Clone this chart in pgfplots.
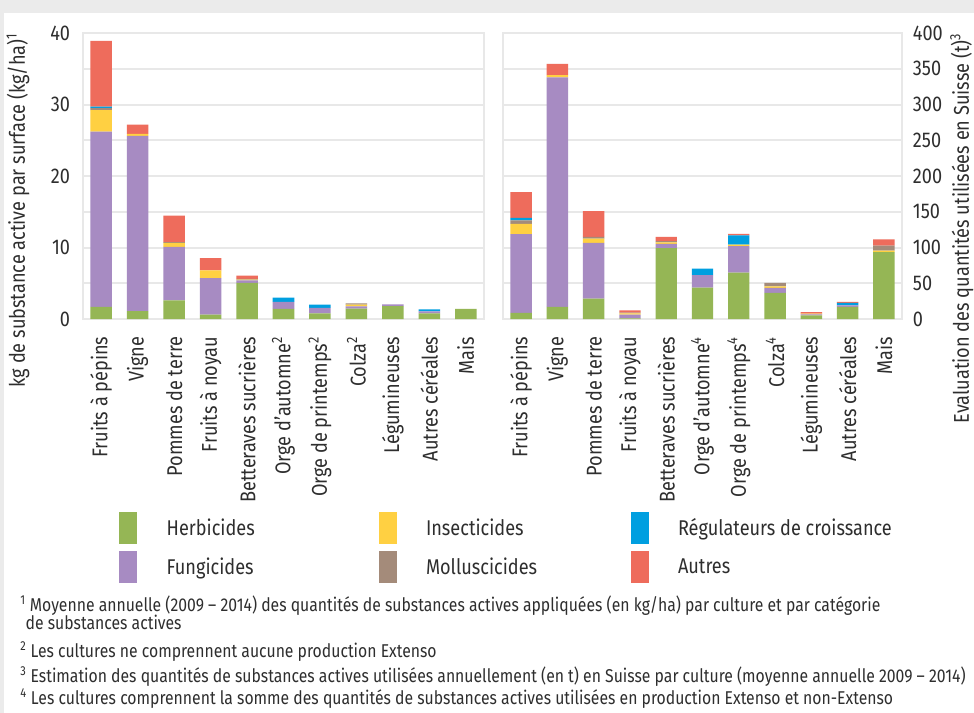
\documentclass[border=0pt]{standalone}
\usepackage{fontspec}
\setmainfont[FakeStretch=0.85]{Fira Sans}
\usepackage{pgfplots}
\usepackage{pgfplotstable}
\pgfplotsset{compat=1.18}
\definecolor{cH}{HTML}{95B655}
\definecolor{cF}{HTML}{A78BC2}
\definecolor{cI}{HTML}{FFD042}
\definecolor{cM}{HTML}{A48B7A}
\definecolor{cG}{HTML}{009FE0}
\definecolor{cA}{HTML}{EE6C5C}
\definecolor{gridc}{HTML}{E8E8E8}
\definecolor{bgc}{HTML}{EBEBEB}
\definecolor{txt}{HTML}{2E2E2E}

\pgfplotstableread{
x H F I M G A
0 1.7 24.5 3.0 0.3 0.2 9.2
1 1.1 24.5 0.3 0 0 1.3
2 2.6 7.5 0.55 0.1 0 3.7
3 0.6 5.1 1.1 0 0 1.7
4 5.05 0.35 0.1 0.1 0 0.45
5 1.4 1.0 0 0 0.6 0
6 0.8 0.75 0 0 0.45 0
7 1.45 0.3 0.25 0.2 0 0
8 1.8 0.25 0 0 0 0
9 0.8 0.25 0 0 0.3 0
10 1.4 0 0 0 0 0
}\leftdata

\pgfplotstableread{
x H F I M G A
0 8.6 110 14.5 5 3.5 36
1 17 321 3 0 0 16
2 28.5 78 6 2.5 0 36
3 1 5 2 1 0 3
4 99 6 2 2 0 6
5 44 17.5 0 0 9 0
6 65 37 2 0 13 2
7 36.5 7 2 5 0 0
8 5 1.5 1 0 0 2
9 17 2 0 0 3.5 1.5
10 93.6 0 2 7 0 8.6
}\rightdata

\newcommand{\axfont}{\fontsize{16}{19}\selectfont}
\pgfplotsset{
  myax/.style={
    scale only axis, height=214.5pt,
    ybar stacked, bar width=0.59,
    xmin=-0.5, xmax=10.5, ymin=0,
    xtick={0,...,10},
    major tick length=0pt, minor tick length=0pt,
    axis line style={gridc, line width=1.5pt},
    ymajorgrids, yminorgrids,
    major grid style={gridc, line width=1.5pt},
    minor grid style={gridc, line width=1.5pt},
    xticklabel style={rotate=90, anchor=east, inner sep=0pt, font=\axfont, text=txt},
    xticklabel shift=13pt,
    yticklabel style={font=\axfont, text=txt, inner sep=0pt},
    ylabel style={font=\axfont, text=txt, anchor=east, inner sep=0pt},
    /pgf/number format/assume math mode=true,
    every axis plot/.append style={draw=none},
  },
}

\begin{document}
\begin{tikzpicture}
\fill[bgc] (0,0) rectangle (730.5pt,-534.75pt);
\fill[white] (3pt,-10pt) rectangle (730.5pt,-534.75pt);

\begin{axis}[myax,
  at={(62.25pt,-239.25pt)}, anchor=south west,
  width=300.75pt,
  ymax=40, ytick={0,10,20,30,40}, minor ytick={5,15,25,35},
  yticklabel shift=9.5pt,
  xticklabels={Fruits à pépins, Vigne, Pommes de terre, Fruits à noyau, Betteraves sucrières, Orge d'automne\textsuperscript{2}, Orge de printemps\textsuperscript{2}, Colza\textsuperscript{2}, Légumineuses, Autres céréales, Mais},
  ylabel={kg de substance active par surface (kg/ha)\textsuperscript{1}},
  ylabel style={at={(axis description cs:-0.162,1)}},
  legend image code/.code={\fill[#1] (0pt,-12pt) rectangle (13.5pt,12pt);},
  transpose legend, legend columns=2,
  legend cell align=left,
  legend style={at={(axis description cs:0.09,-0.675)}, anchor=north west,
    draw=none, fill=none, font=\axfont, text=txt, row sep=5pt, inner sep=0pt,
    /tikz/every even column/.append style={column sep=0pt}},
]
\addplot[fill=cH] table[x=x,y=H]{\leftdata};
\addlegendentry{\hspace{20pt}\makebox[157pt][l]{Herbicides}}
\addplot[fill=cF] table[x=x,y=F]{\leftdata};
\addlegendentry{\hspace{20pt}\makebox[157pt][l]{Fungicides}}
\addplot[fill=cI] table[x=x,y=I]{\leftdata};
\addlegendentry{\hspace{20pt}\makebox[151.5pt][l]{Insecticides}}
\addplot[fill=cM] table[x=x,y=M]{\leftdata};
\addlegendentry{\hspace{20pt}\makebox[151.5pt][l]{Molluscicides}}
\addplot[fill=cG] table[x=x,y=G]{\leftdata};
\addlegendentry{\hspace{20pt}Régulateurs de croissance}
\addplot[fill=cA] table[x=x,y=A]{\leftdata};
\addlegendentry{\hspace{20pt}Autres}
\end{axis}

\begin{axis}[myax,
  at={(377.25pt,-239.25pt)}, anchor=south west,
  width=299.25pt,
  ymax=400, ytick={0,50,...,400},
  yticklabel pos=right,
  yticklabel shift=8pt,
  xticklabels={Fruits à pépins, Vigne, Pommes de terre, Fruits à noyau, Betteraves sucrières, Orge d'automne\textsuperscript{4}, Orge de printemps\textsuperscript{4}, Colza\textsuperscript{4}, Légumineuses, Autres céréales, Mais},
  ylabel={Evaluation des quantités utilisées en Suisse (t)\textsuperscript{3}},
  ylabel style={at={(axis description cs:1.15,1)}},
]
\addplot[fill=cH] table[x=x,y=H]{\rightdata};
\addplot[fill=cF] table[x=x,y=F]{\rightdata};
\addplot[fill=cI] table[x=x,y=I]{\rightdata};
\addplot[fill=cM] table[x=x,y=M]{\rightdata};
\addplot[fill=cG] table[x=x,y=G]{\rightdata};
\addplot[fill=cA] table[x=x,y=A]{\rightdata};
\end{axis}

\begin{scope}[font=\fontsize{13.9}{16}\selectfont, text=txt]
\node[anchor=west, inner sep=0pt] at (15pt,-454.5pt) {\textsuperscript{1} Moyenne annuelle (2009 – 2014) des quantités de substances actives appliquées (en kg/ha) par culture et par catégorie};
\node[anchor=west, inner sep=0pt] at (19pt,-467pt) {de substances actives};
\node[anchor=west, inner sep=0pt] at (15pt,-488.5pt) {\textsuperscript{2} Les cultures ne comprennent aucune production Extenso};
\node[anchor=west, inner sep=0pt] at (15pt,-507.5pt) {\textsuperscript{3} Estimation des quantités de substances actives utilisées annuellement (en t) en Suisse par culture (moyenne annuelle 2009 – 2014)};
\node[anchor=west, inner sep=0pt] at (15pt,-524.25pt) {\textsuperscript{4} Les cultures comprennent la somme des quantités de substances actives utilisées en production Extenso et non-Extenso};
\end{scope}
\end{tikzpicture}
\end{document}
